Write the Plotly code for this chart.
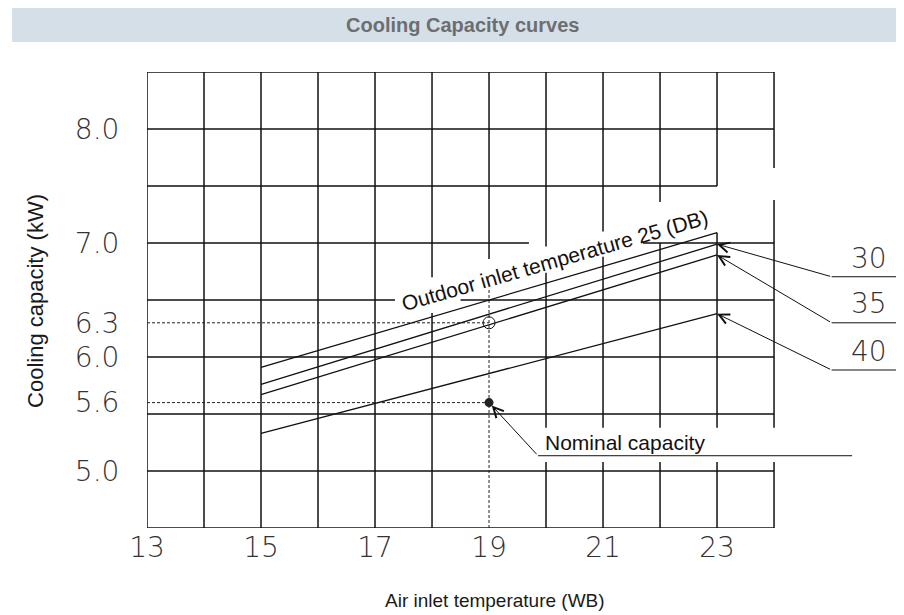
import plotly.graph_objects as go

# ---------------- data ----------------
wb_temps = [15, 23]                      # indoor air inlet temperature (WB)
cap_25 = [5.91, 7.09]                    # outdoor 25 DB
cap_30 = [5.76, 6.99]                    # outdoor 30 DB
cap_35 = [5.67, 6.895]                   # outdoor 35 DB
cap_40 = [5.33, 6.38]                    # outdoor 40 DB
outdoor_labels = ["30", "35", "40"]

rated_wb = 19
rated_cap = 6.3
nominal_cap = 5.6

x_tickvals = [13, 15, 17, 19, 21, 23]
x_ticktext = ["13", "15", "17", "19", "21", "23"]
y_tickvals = [8.0, 7.0, 6.3, 6.0, 5.6, 5.0]
y_ticktext = ["8.0", "7.0", "6.3", "6.0", "5.6", "5.0"]

# grid construction (CAD style, trimmed around the texts)
h_grid = [(8.5, 13, 24), (8.0, 13, 24), (7.5, 13, 23),
          (7.0, 13, 19.7), (7.0, 21.7, 24),
          (6.5, 13, 17.35), (6.5, 18.5, 24),
          (6.0, 13, 24), (5.5, 13, 24), (5.0, 13, 24), (4.5, 13, 24)]
v_grid = [(13, 4.5, 8.5), (14, 4.5, 8.5), (15, 4.5, 8.5), (16, 4.5, 8.5), (17, 4.5, 8.5),
          (18, 4.5, 6.386), (18, 6.70, 8.5),
          (19, 6.86, 8.5),
          (20, 4.5, 5.08), (20, 5.38, 6.74), (20, 6.97, 8.5),
          (21, 4.5, 5.08), (21, 5.38, 6.88), (21, 7.10, 8.5),
          (22, 4.5, 5.08), (22, 5.38, 7.0), (22, 7.36, 8.5),
          (23, 4.5, 5.08), (23, 5.38, 7.09), (23, 7.5, 8.5),
          (24, 4.5, 5.08), (24, 5.38, 7.377), (24, 7.658, 8.5)]

# leader lines for the outdoor temperature labels
leader_elbow_x = 25.01
leader_elbow_y = [6.704, 6.30, 5.886]
leader_end_x = 26.3
label_x = 25.67
label_y = [6.86, 6.465, 6.044]

# nominal capacity leader
nominal_elbow = (19.86, 5.134)
nominal_end_x = 25.37

TICK_FONT = dict(family="DejaVu Sans", size=28, color="#333333", weight=200)
TEXT_FONT = "Liberation Sans, Arial"

fig = go.Figure()

LINE = dict(color="#111111", width=1.3)

shapes = []
for y, x0, x1 in h_grid:
    shapes.append(dict(type="line", xref="x", yref="y", x0=x0, x1=x1, y0=y, y1=y,
                       line=dict(color="#111111", width=1.5), layer="below"))
for x, y0, y1 in v_grid:
    shapes.append(dict(type="line", xref="x", yref="y", x0=x, x1=x, y0=y0, y1=y1,
                       line=dict(color="#111111", width=1.5), layer="below"))

# dashed reference lines for rated point and nominal capacity
for yv in [rated_cap, nominal_cap]:
    shapes.append(dict(type="line", xref="x", yref="y", x0=13, x1=rated_wb, y0=yv, y1=yv,
                       line=dict(color="#222222", width=1, dash="3px,2px"), layer="below"))
shapes.append(dict(type="line", xref="x", yref="y", x0=rated_wb, x1=rated_wb, y0=4.5, y1=6.59,
                   line=dict(color="#222222", width=1, dash="3px,2px"), layer="below"))

# title band
shapes.append(dict(type="rect", xref="paper", yref="paper", x0=-0.1783, x1=1.02,
                   y0=1.0658, y1=1.1404, fillcolor="#d5dfe7", line=dict(width=0), layer="below"))

# curves
for caps in [cap_25, cap_30, cap_35, cap_40]:
    fig.add_trace(go.Scatter(x=wb_temps, y=caps, mode="lines", line=LINE,
                             hoverinfo="skip", showlegend=False))

# horizontal parts of leaders
for ey in leader_elbow_y:
    fig.add_trace(go.Scatter(x=[leader_elbow_x, leader_end_x], y=[ey, ey], mode="lines",
                             line=dict(color="#111111", width=1), hoverinfo="skip",
                             showlegend=False, cliponaxis=False))
fig.add_trace(go.Scatter(x=[nominal_elbow[0], nominal_end_x], y=[nominal_elbow[1], nominal_elbow[1]],
                         mode="lines", line=dict(color="#111111", width=1), hoverinfo="skip",
                         showlegend=False))

# rated / nominal points
fig.add_trace(go.Scatter(x=[rated_wb], y=[rated_cap], mode="markers",
                         marker=dict(symbol="circle-open", size=12, color="#111111", line=dict(width=1)),
                         hoverinfo="skip", showlegend=False))
fig.add_trace(go.Scatter(x=[rated_wb], y=[nominal_cap], mode="markers",
                         marker=dict(symbol="circle", size=9, color="#222222"),
                         hoverinfo="skip", showlegend=False))

annotations = []
# arrows to curve ends
for caps, ey in zip([cap_30, cap_35, cap_40], leader_elbow_y):
    annotations.append(dict(x=wb_temps[-1], y=caps[-1], ax=leader_elbow_x, ay=ey,
                            xref="x", yref="y", axref="x", ayref="y", text="",
                            showarrow=True, arrowhead=5, arrowsize=2, arrowwidth=1,
                            arrowcolor="#111111"))
for lab, ly in zip(outdoor_labels, label_y):
    annotations.append(dict(x=label_x, y=ly, xref="x", yref="y", text=lab, showarrow=False,
                            xanchor="center", yanchor="middle", font=TICK_FONT))
# nominal arrow
annotations.append(dict(x=rated_wb, y=nominal_cap, ax=nominal_elbow[0], ay=nominal_elbow[1],
                        xref="x", yref="y", axref="x", ayref="y", text="",
                        showarrow=True, arrowhead=5, arrowsize=2, arrowwidth=1,
                        arrowcolor="#111111", standoff=4))
annotations.append(dict(x=19.95, y=5.25, xref="x", yref="y", text="Nominal capacity",
                        xanchor="left", yanchor="middle", showarrow=False,
                        font=dict(family=TEXT_FONT, size=21, color="#111111")))
annotations.append(dict(x=20.14, y=6.85, xref="x", yref="y",
                        text="Outdoor inlet temperature 25 (DB)", textangle=-16,
                        xanchor="center", yanchor="middle", showarrow=False,
                        font=dict(family=TEXT_FONT, size=21, color="#111111")))
# titles
annotations.append(dict(x=0.4168, y=1.1031, xref="paper", yref="paper",
                        text="<b>Cooling Capacity curves</b>", showarrow=False,
                        xanchor="center", yanchor="middle",
                        font=dict(family=TEXT_FONT, size=20, color="#6d6e71")))
annotations.append(dict(x=0.4597, y=-0.1579, xref="paper", yref="paper",
                        text="Air inlet temperature (WB)", showarrow=False,
                        xanchor="center", yanchor="middle",
                        font=dict(family=TEXT_FONT, size=19, color="#1a1a1a")))
annotations.append(dict(x=-0.148, y=0.4978, xref="paper", yref="paper",
                        text="Cooling capacity (kW)", textangle=-90, showarrow=False,
                        xanchor="center", yanchor="middle",
                        font=dict(family=TEXT_FONT, size=22, color="#1a1a1a")))

fig.update_layout(
    width=904, height=615,
    margin=dict(l=139, r=8, t=64, b=95),
    paper_bgcolor="white", plot_bgcolor="white",
    shapes=shapes, annotations=annotations,
    xaxis=dict(range=[13, 26.28], showgrid=False, zeroline=False, showline=False,
               tickmode="array", tickvals=x_tickvals, ticktext=x_ticktext,
               ticks="", ticklabelstandoff=0, tickfont=TICK_FONT,
               fixedrange=True),
    yaxis=dict(range=[4.5, 8.5], showgrid=False, zeroline=False, showline=False,
               tickmode="array", tickvals=y_tickvals, ticktext=y_ticktext,
               ticks="outside", ticklen=21, tickcolor="rgba(0,0,0,0)", tickfont=TICK_FONT,
               fixedrange=True),
)

fig.write_html("out.html")
